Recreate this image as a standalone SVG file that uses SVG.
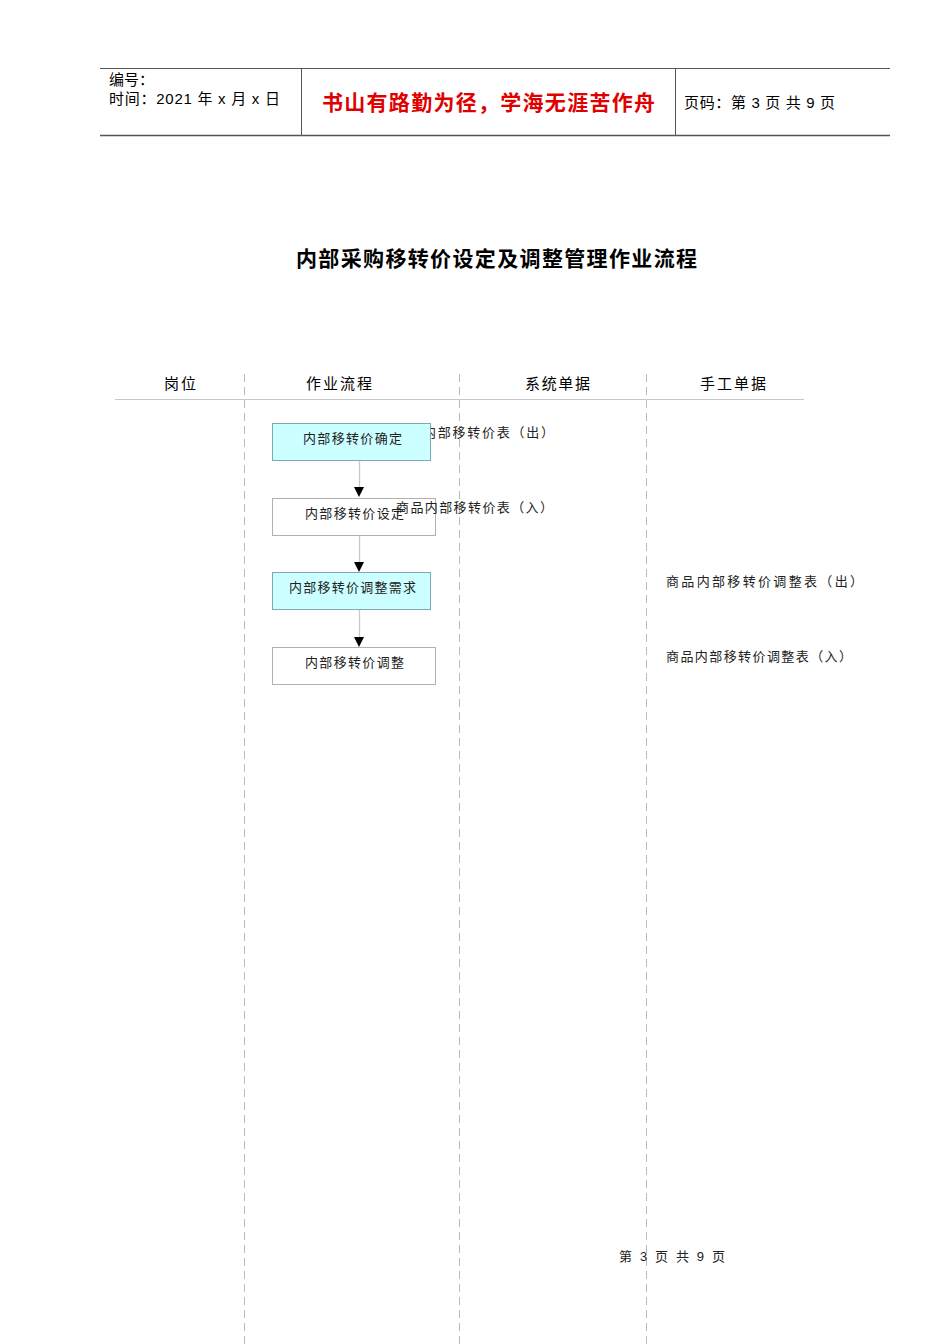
<svg xmlns="http://www.w3.org/2000/svg" width="950" height="1344" viewBox="0 0 950 1344">
<style>
.cjk{font-family:"Liberation Sans","Noto Sans CJK SC",sans-serif;}
.hd{font-size:15px;fill:#000;}
.lane{stroke:#bbb;stroke-width:1;stroke-dasharray:8,5;}
.nt{font-size:13px;fill:#222;}
.doc{font-size:13px;fill:#222;}
.cy{fill:#ccffff;stroke:#7fa9ad;stroke-width:1;}
.wh{fill:#fff;stroke:#b0b0b0;stroke-width:1;}
.con{stroke:#c8c8c8;stroke-width:1.3;fill:none;}
.ah{fill:#000;}
</style>
<rect width="950" height="1344" fill="#fff"/>
<g id="header">
<line x1="100" y1="68.5" x2="890" y2="68.5" stroke="#555" stroke-width="1"/>
<line x1="100" y1="135.5" x2="890" y2="135.5" stroke="#555" stroke-width="1.5"/>
<line x1="301.5" y1="68" x2="301.5" y2="135" stroke="#555" stroke-width="1"/>
<line x1="675.5" y1="68" x2="675.5" y2="135" stroke="#555" stroke-width="1"/>
<text x="109" y="85" class="cjk" font-size="15">编号：</text>
<text x="109" y="104" class="cjk" font-size="15" textLength="171" lengthAdjust="spacing">时间：2021 年 x 月 x 日</text>
<text x="322" y="110" class="cjk" font-size="21" fill="#e00000" font-weight="bold" textLength="333" lengthAdjust="spacing">书山有路勤为径，学海无涯苦作舟</text>
<text x="684" y="108" class="cjk" font-size="15" textLength="151" lengthAdjust="spacing">页码：第 3 页  共 9 页</text>
</g>
<text x="296" y="266" class="cjk" font-size="21" font-weight="bold" textLength="401" lengthAdjust="spacing">内部采购移转价设定及调整管理作业流程</text>
<g id="lanes">
<line x1="244.5" y1="374" x2="244.5" y2="1344" class="lane"/>
<line x1="459.5" y1="374" x2="459.5" y2="1344" class="lane"/>
<line x1="646.5" y1="374" x2="646.5" y2="1344" class="lane"/>
<line x1="115" y1="399.5" x2="804" y2="399.5" stroke="#c8c8c8" stroke-width="1.2"/>
<text x="164" y="389" class="cjk hd" textLength="32" lengthAdjust="spacing">岗位</text>
<text x="306" y="389" class="cjk hd" textLength="66" lengthAdjust="spacing">作业流程</text>
<text x="525" y="389" class="cjk hd" textLength="65" lengthAdjust="spacing">系统单据</text>
<text x="700" y="389" class="cjk hd" textLength="66" lengthAdjust="spacing">手工单据</text>
</g>
<g id="connectors">
<line x1="359.5" y1="460" x2="359.5" y2="488" class="con"/>
<path d="M354,487 L364,487 L359,497 Z" class="ah"/>
<line x1="359.5" y1="535" x2="359.5" y2="562" class="con"/>
<path d="M354,562 L364,562 L359,572 Z" class="ah"/>
<line x1="359.5" y1="609" x2="359.5" y2="637" class="con"/>
<path d="M354,637 L364,637 L359,647 Z" class="ah"/>
</g>
<g id="doc1"><text x="423" y="437" class="cjk doc" textLength="131" lengthAdjust="spacing">内部移转价表（出）</text></g>
<g id="n1"><rect x="272.5" y="423.5" width="158" height="37" class="cy"/><text x="303" y="443" class="cjk nt" textLength="99" lengthAdjust="spacing">内部移转价确定</text></g>
<g id="n2"><rect x="272.5" y="498.5" width="163" height="37" class="wh"/><text x="305" y="518" class="cjk nt" textLength="99" lengthAdjust="spacing">内部移转价设定</text></g>
<g id="n3"><rect x="272.5" y="572.5" width="158" height="37" class="cy"/><text x="289" y="592" class="cjk nt" textLength="127" lengthAdjust="spacing">内部移转价调整需求</text></g>
<g id="n4"><rect x="272.5" y="647.5" width="163" height="37" class="wh"/><text x="305" y="667" class="cjk nt" textLength="99" lengthAdjust="spacing">内部移转价调整</text></g>
<g id="docs">
<text x="396" y="512" class="cjk doc" textLength="157" lengthAdjust="spacing">商品内部移转价表（入）</text>
<text x="666" y="586" class="cjk doc" textLength="197" lengthAdjust="spacing">商品内部移转价调整表（出）</text>
<text x="666" y="661" class="cjk doc" textLength="186" lengthAdjust="spacing">商品内部移转价调整表（入）</text>
</g>
<text x="619" y="1261" class="cjk" font-size="13" fill="#222" textLength="106" lengthAdjust="spacing">第 3 页 共 9 页</text>
</svg>
